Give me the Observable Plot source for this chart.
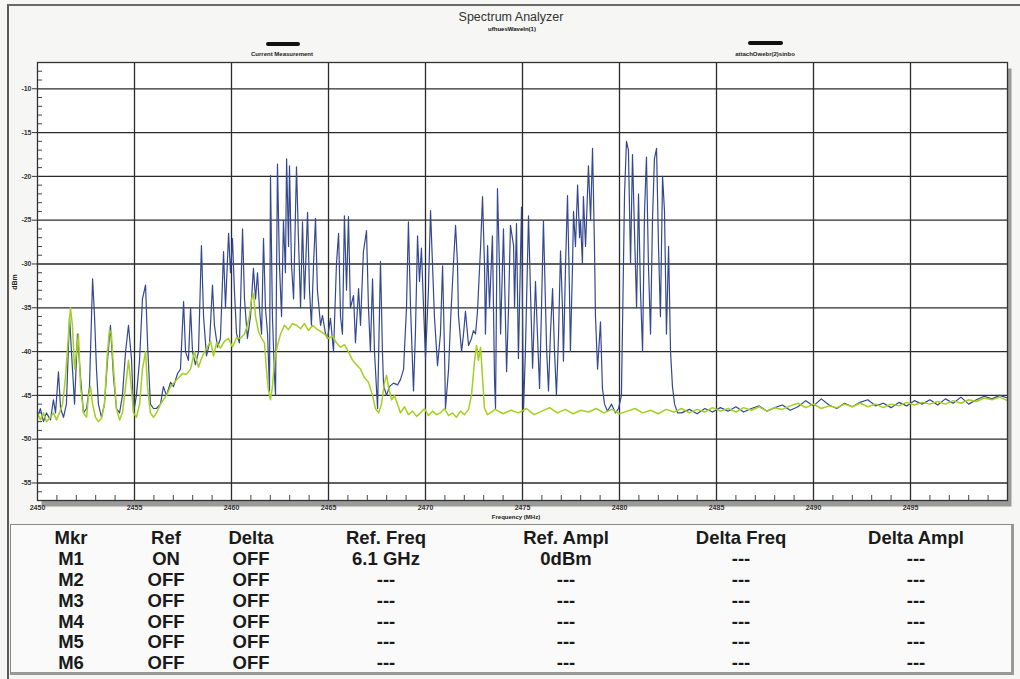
<!DOCTYPE html>
<html><head><meta charset="utf-8">
<script src="https://cdn.jsdelivr.net/npm/d3@7"></script>
<script src="https://cdn.jsdelivr.net/npm/@observablehq/plot@0.6"></script>
<style>
body{margin:0;background:#fff;}
#wrap{position:relative;width:1020px;height:679px;background:#f6f6f4;overflow:hidden;font-family:"Liberation Sans",Arial,sans-serif;}
#edge{position:absolute;left:7px;top:4px;width:1013px;height:675px;border-left:2px solid #5a5a5a;border-top:2px solid #6a6a6a;box-sizing:border-box;}
#chart{position:absolute;left:0;top:0;}
.t{position:absolute;white-space:nowrap;transform:translate(-50%,-50%);color:#222;}
#title{left:511px;top:17px;font-size:12.5px;color:#333;}
#sub{left:512px;top:29px;font-size:6px;font-weight:bold;color:#111;}
.bar{position:absolute;height:4px;background:#111;border-radius:2px;}
.leg{font-size:6px;font-weight:bold;top:54px;}
#ylab{left:14px;top:282px;font-size:7px;font-weight:bold;transform:translate(-50%,-50%) rotate(-90deg);}
#xlab{left:516px;top:517px;font-size:6px;font-weight:bold;}
#tbl{position:absolute;left:10px;top:524px;width:1004px;height:151px;border:1px solid #888;border-right:3px solid #999;border-bottom:3px solid #999;box-sizing:border-box;background:#fafafa;}
#tbl table{border-collapse:collapse;table-layout:fixed;width:1000px;margin-top:3px;font-family:"Liberation Sans",Arial,sans-serif;font-weight:bold;font-size:18.5px;color:#1a1a1a;}
#tbl td{text-align:center;height:20.8px;padding:0;line-height:20px;}
</style></head>
<body>
<div id="wrap">
  <div id="edge"></div>
  <div id="chart"></div>
  <div class="t" id="title"></div>
  <div class="t" id="sub"></div>
  <div class="bar" style="left:266px;top:42px;width:34px;"></div>
  <div class="t leg" id="leg1" style="left:282px;"></div>
  <div class="bar" style="left:748px;top:41px;width:35px;"></div>
  <div class="t leg" id="leg2" style="left:765px;"></div>
  <div class="t" id="ylab"></div>
  <div class="t" id="xlab"></div>
  <div id="tbl"><table id="table"></table></div>
</div>
<script>
const titleText = "Spectrum Analyzer";
const subtitleText = "ufhuesWaveIn(1)";
const legendLabels = ["Current Measurement", "attachOwebr(2)sinbo"];
const yLabel = "dBm";
const xLabel = "Frequency (MHz)";

const xTicks = [2450, 2455, 2460, 2465, 2470, 2475, 2480, 2485, 2490, 2495];
const yTicks = [-10, -15, -20, -25, -30, -35, -40, -45, -50, -55];

// Blue trace (frequency MHz, amplitude dBm)
const blueFreq = [
2450.00,2450.15,2450.31,2450.46,2450.67,2450.82,2450.93,2451.08,2451.19,2451.34,
2451.49,2451.65,2451.75,2451.91,2452.06,2452.22,2452.37,2452.53,2452.68,2452.84,
2452.94,2453.04,2453.14,2453.30,2453.45,2453.61,2453.76,2453.92,2454.07,2454.23,
2454.38,2454.54,2454.69,2454.85,2454.95,2455.10,2455.26,2455.41,2455.57,2455.67,
2455.82,2455.98,2456.13,2456.34,2456.49,2456.65,2456.86,2457.01,2457.22,2457.37,
2457.53,2457.63,2457.78,2457.89,2457.99,2458.14,2458.30,2458.45,2458.56,2458.71,
2458.87,2459.02,2459.12,2459.28,2459.43,2459.59,2459.69,2459.85,2459.95,2460.05,
2460.15,2460.26,2460.41,2460.57,2460.67,2460.82,2460.98,2461.13,2461.24,2461.34,
2461.44,2461.55,2461.65,2461.75,2461.86,2461.96,2462.01,2462.11,2462.22,2462.27,
2462.37,2462.47,2462.58,2462.68,2462.78,2462.84,2462.94,2462.99,2463.09,2463.20,
2463.35,2463.45,2463.56,2463.66,2463.76,2463.92,2464.02,2464.12,2464.23,2464.33,
2464.43,2464.59,2464.69,2464.85,2464.95,2465.10,2465.26,2465.41,2465.52,2465.62,
2465.72,2465.82,2465.93,2466.03,2466.13,2466.29,2466.39,2466.55,2466.65,2466.80,
2466.96,2467.06,2467.16,2467.27,2467.37,2467.53,2467.68,2467.78,2467.84,2467.99,
2468.14,2468.35,2468.56,2468.71,2468.87,2469.02,2469.12,2469.23,2469.38,2469.48,
2469.59,2469.69,2469.79,2469.90,2470.00,2470.15,2470.26,2470.36,2470.46,2470.62,
2470.77,2470.88,2470.98,2471.03,2471.19,2471.29,2471.44,2471.55,2471.65,2471.70,
2471.86,2471.96,2472.06,2472.22,2472.37,2472.47,2472.58,2472.68,2472.84,2472.94,
2473.04,2473.09,2473.20,2473.30,2473.45,2473.56,2473.61,2473.71,2473.81,2473.87,
2474.02,2474.18,2474.28,2474.38,2474.54,2474.59,2474.69,2474.79,2474.95,2475.05,
2475.15,2475.31,2475.41,2475.52,2475.67,2475.77,2475.88,2475.98,2476.08,2476.19,
2476.24,2476.34,2476.44,2476.55,2476.65,2476.75,2476.86,2476.96,2477.06,2477.11,
2477.22,2477.32,2477.42,2477.47,2477.58,2477.63,2477.73,2477.84,2477.94,2477.99,
2478.09,2478.14,2478.25,2478.30,2478.40,2478.51,2478.61,2478.71,2478.76,2478.87,
2479.02,2479.12,2479.23,2479.38,2479.59,2479.79,2479.95,2480.10,2480.26,2480.36,
2480.46,2480.57,2480.67,2480.77,2480.88,2480.98,2481.08,2481.19,2481.29,2481.39,
2481.49,2481.60,2481.70,2481.80,2481.91,2482.01,2482.11,2482.22,2482.32,2482.42,
2482.53,2482.63,2482.73,2482.84,2482.99,
2483.2,2483.6,2484.0,2484.4,2484.8,2485.2,2485.6,2486.0,2486.4,2486.8,
2487.2,2487.6,2488.0,2488.4,2488.8,2489.2,2489.6,2490.0,2490.4,2490.8,
2491.2,2491.6,2492.0,2492.4,2492.8,2493.2,2493.6,2494.0,2494.4,2494.8,
2495.2,2495.6,2496.0,2496.4,2496.8,2497.2,2497.6,2498.0,2498.4,2498.8,
2499.2,2499.6,2500.0
];
const blueDbm = [
-47.5,-46.5,-48,-47,-47.8,-45.5,-47,-42.3,-46.5,-47.5,
-46,-36,-40,-46,-38,-43,-47,-46.5,-44,-31.7,
-36,-42,-46,-47.5,-46,-41,-37,-43,-46.5,-47,
-45,-40,-37,-41,-47,-45,-41,-34,-32.4,-39,
-46,-46.5,-46.5,-46,-44,-45,-43.5,-44,-42.5,-42,
-34.3,-40,-41,-35,-40,-41.5,-40,-27.9,-36,-40.5,
-39,-32.4,-37,-39.5,-38.5,-28.6,-35,-26.5,-31,-27.1,
-33,-38,-39,-26,-34,-38.5,-36,-30.5,-34,-31,
-35,-38,-27.1,-35,-38,-44.5,-19.9,-36,-43,-45,
-18.6,-30,-36,-25,-31,-18,-28,-18.8,-30,-34,
-18.9,-27,-35,-25.2,-34,-24.1,-33,-37,-30,-24.8,
-33,-37,-35.9,-38,-38.5,-36.2,-40,-30,-26.5,-36,
-38,-24.5,-33,-24.6,-35,-33.6,-39,-32.8,-37,-28.6,
-26.2,-35,-40,-31.7,-40,-46.5,-29.7,-40,-43.9,-45,
-44,-43.6,-43.8,-43.2,-42,-35,-25.2,-35,-44.5,-38,
-26.8,-32,-28.2,-35,-40.8,-33,-23.9,-30,-36,-41.6,
-38,-30.2,-40,-46.5,-42,-36.6,-30,-25.6,-30,-35.9,
-40,-38,-35.4,-39.3,-38.5,-37.6,-38,-35.4,-28,-22.3,
-30,-38,-27.9,-35,-26.8,-43.4,-46.5,-21.4,-30,-38,
-26,-42.3,-35,-25.6,-27.9,-35,-25.4,-40.8,-23.5,-46.8,
-40,-24.5,-33,-41.9,-32,-38,-44.2,-35,-25.1,-35,
-39.6,-44.5,-38,-32.8,-40,-45,-38,-28.5,-35,-41.1,
-30,-22.2,-33,-40,-30,-24,-28,-21,-27,-25,
-30,-22.3,-28,-25,-18.8,-25,-16.8,-28,-35.9,-42,
-36.6,-44.2,-46,-46.8,-46,-47,-46.5,-45,-22,-16,
-17,-30,-17.5,-26,-35,-22,-33,-40,-24,-17.8,
-30,-38,-25,-18,-16.8,-28,-36,-20,-24,-38,
-28,-40,-44,-46,-47,
-47,-46.6,-47.1,-46.5,-46.9,-46.4,-46.8,-46.3,-46.9,-46.5,
-46.2,-46.8,-46.4,-46.1,-46.7,-46.3,-45.6,-46.2,-45.4,-46.1,
-46.5,-45.9,-46.3,-45.8,-45.5,-46.2,-45.9,-46.4,-45.8,-46.2,
-45.6,-46,-45.5,-46.1,-45.4,-45.9,-45.2,-46,-45.5,-45.1,
-45.4,-45,-45.3
];

// Green trace (frequency MHz, amplitude dBm)
const greenFreq = [
2450.00,2450.15,2450.31,2450.46,2450.67,2450.82,2450.98,2451.13,2451.29,2451.44,
2451.60,2451.70,2451.80,2451.91,2452.01,2452.11,2452.22,2452.37,2452.53,2452.63,
2452.73,2452.84,2452.99,2453.14,2453.30,2453.45,2453.61,2453.71,2453.81,2453.92,
2454.07,2454.23,2454.38,2454.54,2454.69,2454.79,2454.95,2455.10,2455.26,2455.41,
2455.57,2455.67,2455.82,2455.98,2456.13,2456.34,2456.49,2456.65,2456.86,2457.06,
2457.27,2457.47,2457.68,2457.89,2458.09,2458.30,2458.45,2458.61,2458.76,2458.92,
2459.07,2459.23,2459.43,2459.64,2459.85,2460.05,2460.26,2460.46,2460.67,2460.82,
2460.93,2461.03,2461.13,2461.24,2461.39,2461.55,2461.70,2461.80,2461.91,2462.01,
2462.11,2462.22,2462.37,2462.53,2462.73,2462.94,2463.14,2463.35,2463.56,2463.76,
2463.97,2464.18,2464.38,2464.59,2464.79,2465.00,2465.21,2465.41,2465.62,2465.82,
2466.03,2466.24,2466.44,2466.65,2466.86,2467.06,2467.27,2467.42,2467.58,2467.73,
2467.89,2467.99,2468.09,2468.25,2468.40,2468.56,2468.71,2468.92,2469.12,2469.33,
2469.54,2469.74,2469.95,2470.15,2470.36,2470.57,2470.77,2470.98,2471.19,2471.39,
2471.60,2471.80,2472.01,2472.22,2472.37,2472.53,2472.63,2472.73,2472.84,2472.94,
2473.04,2473.20,
2473.6,2474.0,2474.4,2474.8,2475.2,2475.6,2476.0,2476.4,2476.8,2477.2,
2477.6,2478.0,2478.4,2478.8,2479.2,2479.6,2480.0,2480.4,2480.8,2481.2,
2481.6,2482.0,2482.4,2482.8,2483.2,2483.6,2484.0,2484.4,2484.8,2485.2,
2485.6,2486.0,2486.4,2486.8,2487.2,2487.6,2488.0,2488.4,2488.8,2489.2,
2489.6,2490.0,2490.4,2490.8,2491.2,2491.6,2492.0,2492.4,2492.8,2493.2,
2493.6,2494.0,2494.4,2494.8,2495.2,2495.6,2496.0,2496.4,2496.8,2497.2,
2497.6,2498.0,2498.4,2498.8,2499.2,2499.6,2500.0
];
const greenDbm = [
-47,-47.8,-47,-48,-47.5,-47,-47.8,-47,-46,-43,
-38,-35,-37,-42,-40,-38,-44,-47,-47.5,-45,
-44,-46,-47.5,-48,-47.6,-46,-40,-37.5,-38,-42,
-46.5,-47.8,-47,-44,-41,-43,-47,-47.5,-46,-42,
-40,-44,-47,-47.5,-47,-46,-45.5,-45,-44,-43.5,
-43,-42.5,-42.6,-42,-40,-41.8,-40.8,-40,-39.5,-38.8,
-40.5,-39,-39.6,-38.8,-38.5,-39.5,-38.4,-38.5,-38,-37,
-35.9,-34,-33.4,-36,-37.7,-38.5,-39,-42,-44.5,-45.5,
-44,-41,-39.3,-38,-37,-37.5,-36.8,-37,-37.4,-36.8,
-37.6,-37,-37.4,-37.7,-38,-38.5,-38.2,-39,-39.5,-39.2,
-40,-41,-41.5,-42,-43,-43.5,-45,-46.5,-47,-46,
-43.5,-42.7,-44,-45.5,-45,-46,-47,-46.3,-47.2,-46.8,
-47.4,-47,-46.5,-47.3,-46.8,-47.2,-47,-46.5,-47.3,-47,
-47.5,-46.8,-47.2,-46.6,-45,-41,-39.3,-41,-39.5,-43,
-46.5,-47.2,
-46.6,-47.1,-46.7,-47,-46.5,-47.2,-46.8,-46.4,-47,-46.6,
-47.1,-46.7,-46.9,-46.5,-47,-46.6,-47.1,-46.8,-46.5,-47,
-46.7,-47.1,-46.6,-46.9,-46.5,-47,-46.6,-46.9,-46.4,-46.8,
-46.5,-46.9,-46.4,-46.7,-46.3,-46.8,-46.4,-46.6,-46.2,-45.9,
-46.4,-46,-46.5,-46.2,-46.4,-46,-46.3,-45.9,-46.3,-46,
-46.4,-46,-46.2,-45.8,-46.1,-45.8,-46,-45.7,-46,-45.6,
-45.9,-45.5,-45.7,-45.3,-45.5,-45.2,-45.6
];

const tableHeader = ["Mkr", "Ref", "Delta", "Ref. Freq", "Ref. Ampl", "Delta Freq", "Delta Ampl"];
const markers = ["M1", "M2", "M3", "M4", "M5", "M6"];
const refState = ["ON", "OFF", "OFF", "OFF", "OFF", "OFF"];
const deltaState = ["OFF", "OFF", "OFF", "OFF", "OFF", "OFF"];
const refFreq = ["6.1 GHz", "---", "---", "---", "---", "---"];
const refAmpl = ["0dBm", "---", "---", "---", "---", "---"];
const deltaFreq = ["---", "---", "---", "---", "---", "---"];
const deltaAmpl = ["---", "---", "---", "---", "---", "---"];

document.getElementById("title").textContent = titleText;
document.getElementById("sub").textContent = subtitleText;
document.getElementById("leg1").textContent = legendLabels[0];
document.getElementById("leg2").textContent = legendLabels[1];
document.getElementById("ylab").textContent = yLabel;
document.getElementById("xlab").textContent = xLabel;

const blue = blueFreq.map((f, i) => ({f, v: blueDbm[i]}));
const green = greenFreq.map((f, i) => ({f, v: greenDbm[i]}));
const minorX = d3.range(2451, 2500).filter(v => v % 5 !== 0);
const minorY = d3.range(-56, -7).filter(v => v % 5 !== 0);
const gridX = xTicks.filter(v => v !== 2450);

const chart = Plot.plot({
  width: 1020,
  height: 522,
  marginLeft: 37,
  marginRight: 13,
  marginTop: 62,
  marginBottom: 22,
  style: {background: "transparent", fontFamily: "Liberation Sans, Arial, sans-serif"},
  x: {domain: [2450, 2500], label: null},
  y: {domain: [-57, -7], label: null},
  marks: [
    Plot.frame({fill: "#9a9a9a", dx: 4, dy: 6}),
    Plot.frame({fill: "white"}),
    Plot.gridX(gridX, {stroke: "#2b2b2b", strokeOpacity: 1, strokeWidth: 1.3}),
    Plot.gridY(yTicks, {stroke: "#2b2b2b", strokeOpacity: 1, strokeWidth: 1.3}),
    Plot.axisX(minorX, {tickSize: -5, tickFormat: () => "", stroke: "#444"}),
    Plot.axisY(minorY, {tickSize: -5, tickFormat: () => "", stroke: "#444"}),
    Plot.line(blue, {x: "f", y: "v", stroke: "#34488f", strokeWidth: 1.2}),
    Plot.line(green, {x: "f", y: "v", stroke: "#a3d021", strokeWidth: 1.5}),
    Plot.frame({stroke: "#333", strokeWidth: 1.3}),
    Plot.axisX(xTicks, {tickSize: 0, tickPadding: 5, fontSize: 7, fontWeight: "bold", fill: "#333", tickFormat: d => String(d), label: null}),
    Plot.axisY(yTicks, {tickSize: 5, tickPadding: 1, fontSize: 7, fontWeight: "bold", fill: "#333", stroke: "#333", tickFormat: d => String(d), label: null})
  ]
});
document.getElementById("chart").appendChild(chart);

const cols = [120, 70, 100, 170, 190, 160, 190];
const tbl = document.getElementById("table");
const cg = document.createElement("colgroup");
cols.forEach(w => { const c = document.createElement("col"); c.style.width = w + "px"; cg.appendChild(c); });
tbl.appendChild(cg);
const rows = [tableHeader].concat(markers.map((m, i) => [m, refState[i], deltaState[i], refFreq[i], refAmpl[i], deltaFreq[i], deltaAmpl[i]]));
rows.forEach(r => {
  const tr = document.createElement("tr");
  r.forEach(c => { const td = document.createElement("td"); td.textContent = c; tr.appendChild(td); });
  tbl.appendChild(tr);
});
</script>
</body></html>
